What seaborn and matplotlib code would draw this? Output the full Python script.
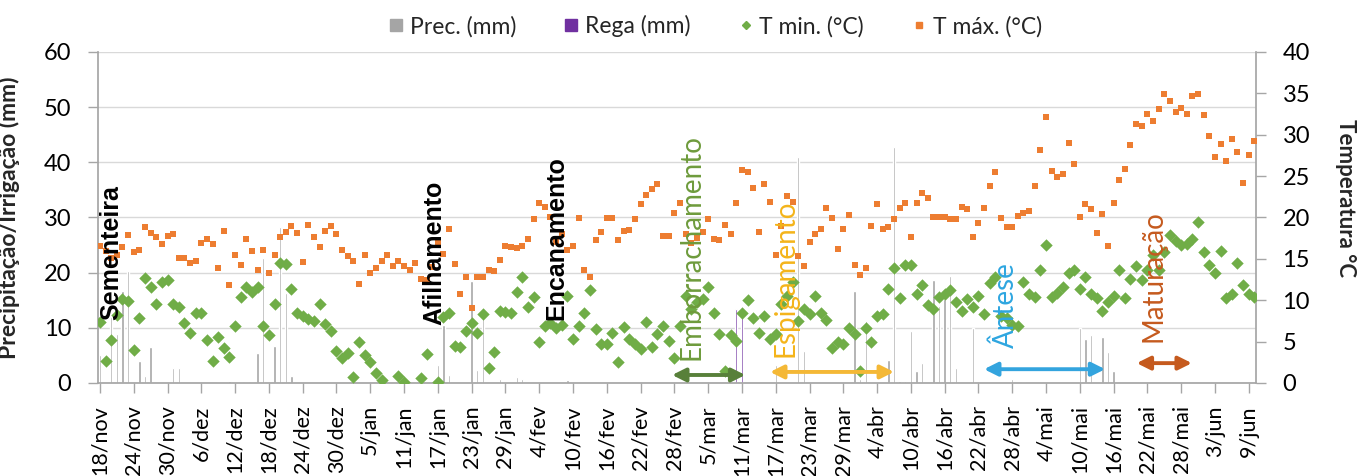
import matplotlib
matplotlib.use("Agg")
import matplotlib.pyplot as plt
from matplotlib.lines import Line2D
import numpy as np
import pandas as pd
import seaborn as sns

# Daily data from 18/nov (day 0) to 10/jun (day 205)
start_date = "2019-11-18"
n_days = 206

t_max = [16.6, 16.0, 15.1, 15.5, 16.4, 17.9, 15.8, 16.1, 18.9, 18.1,
         17.6, 16.8, 17.8, 18.0, 15.1, 15.1, 14.5, 14.7, 16.9, 17.4,
         16.8, 13.9, 18.4, 11.9, 15.5, 14.3, 17.4, 16.0, 13.7, 16.1,
         13.3, 15.5, 17.6, 18.2, 19.0, 18.1, 14.6, 19.1, 17.7, 16.4,
         18.4, 19.0, 18.0, 16.1, 15.3, 14.8, 12.0, 15.5, 13.3, 13.9,
         14.8, 15.5, 14.1, 14.8, 14.1, 13.7, 14.5, 12.6, 12.5, 14.0,
         17.0, 15.6, 18.6, 14.4, 10.8, 12.8, 9.1, 12.8, 12.8, 13.7,
         13.5, 14.9, 16.5, 16.4, 16.3, 16.5, 17.4, 19.8, 21.8, 21.3,
         20.1, 17.0, 18.0, 16.1, 16.5, 19.9, 13.7, 12.8, 17.3, 18.2,
         19.9, 19.9, 17.3, 18.4, 18.5, 19.8, 21.6, 22.7, 23.5, 24.1,
         17.8, 17.8, 20.5, 21.7, 18.0, 16.9, 17.5, 18.3, 19.8, 17.4,
         17.3, 19.1, 18.0, 21.8, 25.7, 25.5, 23.6, 18.2, 24.1, 21.9,
         15.5, 19.0, 22.6, 21.9, 15.4, 14.1, 17.0, 18.0, 18.6, 21.2,
         19.9, 16.2, 18.6, 20.3, 14.3, 13.0, 13.9, 19.0, 21.6, 18.6,
         18.8, 19.8, 21.1, 21.8, 17.6, 21.8, 22.9, 22.4, 20.0, 20.0,
         20.0, 19.8, 19.8, 21.3, 21.0, 17.6, 19.3, 21.2, 23.8, 25.5,
         19.9, 18.9, 18.9, 20.2, 20.5, 20.8, 23.8, 28.2, 32.1, 25.6,
         24.9, 25.3, 29.0, 26.5, 20.0, 21.6, 21.0, 18.1, 20.4, 16.5,
         21.7, 24.5, 25.9, 28.7, 31.3, 31.1, 32.5, 31.7, 33.1, 34.9,
         34.1, 32.7, 33.2, 32.5, 34.7, 34.9, 32.4, 29.9, 27.3, 28.9,
         26.8, 29.5, 27.9, 24.2, 27.5, 29.3]

# negative minima are not shown on the chart (axis starts at 0)
t_min = [7.4, 2.7, 5.2, 8.2, 10.1, 9.9, 4.0, 7.9, 12.7, 11.6,
         9.5, 12.2, 12.4, 9.6, 9.2, 7.2, 6.1, 8.5, 8.5, 5.2,
         2.6, 5.5, 4.2, 3.1, 6.9, 10.4, 11.6, 11.0, 11.6, 6.9,
         5.8, 9.6, 14.5, 14.4, 11.3, 8.5, 8.1, 7.7, 7.5, 9.5,
         7.1, 6.3, 3.9, 3.0, 3.6, 0.7, 5.0, 3.4, 2.5, 1.2,
         0.4, -2.0, -2.0, 0.9, 0.1, -2.0, -2.0, 0.6, 3.5, -2.0,
         0.1, 8.0, 8.5, 4.5, 4.4, 6.3, 7.3, 6.1, 8.3, 1.8,
         3.7, 8.7, 8.6, 8.5, 11.0, 12.8, 9.2, 10.4, 4.9, 6.9,
         7.2, 6.6, 7.0, 10.5, 5.3, 6.9, 8.5, 11.2, 6.5, 4.7,
         4.7, 6.0, 2.5, 6.8, 5.3, 4.7, 4.1, 7.4, 4.4, 5.9,
         6.9, 5.1, 3.0, 6.9, 10.5, 8.9, 9.8, 10.2, 11.6, 8.5,
         5.9, 1.5, 5.8, 5.1, 8.5, 10.0, 7.9, 6.0, 8.1, 5.3,
         5.9, 9.6, 10.5, 12.2, 7.5, 8.9, 8.3, 10.5, 8.5, 7.6,
         4.2, 5.0, 4.7, 6.7, 5.9, 1.5, 6.6, 4.9, 8.1, 8.3,
         11.4, 13.9, 10.3, 14.3, 14.3, 10.8, 11.8, 9.4, 8.9, 10.4,
         10.8, 11.2, 9.8, 8.7, 10.1, 9.2, 10.5, 8.3, 12.1, 12.8,
         8.1, 7.9, 7.0, 6.9, 12.2, 10.8, 10.4, 13.7, 16.7, 10.4,
         10.9, 11.6, 13.3, 13.7, 11.3, 12.8, 10.8, 10.3, 8.7, 9.8,
         10.5, 13.7, 10.3, 12.6, 14.1, 12.5, 13.7, 15.5, 13.7, 15.8,
         17.9, 17.1, 16.7, 16.8, 17.4, 19.4, 15.8, 14.3, 13.3, 16.0,
         10.3, 10.8, 14.5, 11.8, 10.8, 10.4]

# precipitation (mm): day index -> value
prec_days = [0, 2, 3, 4, 5, 7, 8, 9, 13, 14, 21, 23, 25, 26, 27, 28, 29, 31, 32, 33,
             34, 60, 61, 62, 66, 67, 68, 71, 74, 75, 83, 120, 124, 125, 134, 135, 136,
             140, 141, 142, 143, 144, 145, 146, 148, 149, 150, 151, 152, 155, 162, 164,
             174, 175, 176, 178, 179, 180]
prec_mm = [5.1, 12.0, 8.9, 16.7, 20.3, 4.0, 1.3, 6.5, 2.7, 2.7, 0.2, 0.3, 0.2, 0.2, 0.2,
           5.4, 22.7, 6.7, 28.2, 16.4, 1.3, 3.3, 10.6, 1.5, 18.4, 2.4, 11.9, 0.7, 1.1, 0.7,
           0.5, 3.3, 40.9, 5.8, 16.6, 0.8, 11.2, 4.2, 42.7, 0.4, 0.4, 9.4, 2.2, 3.7, 18.7,
           14.0, 15.3, 19.4, 2.7, 9.9, 0.8, 0.2, 9.9, 7.9, 8.7, 8.3, 5.6, 2.1]

# irrigation (mm)
rega_days = [113, 114]
rega_mm = [13.4, 12.2]

tick_labels = ["18/nov", "24/nov", "30/nov", "6/dez", "12/dez", "18/dez", "24/dez",
               "30/dez", "5/jan", "11/jan", "17/jan", "23/jan", "29/jan", "4/fev",
               "10/fev", "16/fev", "22/fev", "28/fev", "5/mar", "11/mar", "17/mar",
               "23/mar", "29/mar", "4/abr", "10/abr", "16/abr", "22/abr", "28/abr",
               "4/mai", "10/mai", "16/mai", "22/mai", "28/mai", "3/jun", "9/jun"]

# phenological stages: label, x (day), bottom of text (mm), colour
stages_black = [("Sementeira", 2.0, 11.4), ("Afilhamento", 59.3, 10.5),
                ("Encanamento", 81.0, 11.4)]
stages_col = [("Emborrachamento", 105.1, 4.2, "#6E9B3C"),
              ("Espigamento", 121.8, 4.7, "#F4B41A"),
              ("Ântese", 160.8, 6.3, "#2EA6E0"),
              ("Maturação", 187.0, 7.4, "#C55A1E")]
# arrows: start day, end day, height (mm), colour
arrows = [(101.6, 114.6, 1.45, "#58803A"), (119.0, 141.0, 2.0, "#F4B836"),
          (157.0, 178.5, 2.5, "#33A4DE"), (184.1, 193.9, 3.6, "#C55A1E")]

df = pd.DataFrame({"date": pd.date_range(start_date, periods=n_days),
                   "day": np.arange(n_days), "tmax": t_max, "tmin": t_min})

sns.set_theme(style="white")
plt.rcParams["font.family"] = ["Lato", "DejaVu Sans"]

fig, ax = plt.subplots(figsize=(13.61, 4.76), dpi=100)
fig.subplots_adjust(left=0.0718, right=0.9229, bottom=0.1954, top=0.8908)
ax2 = ax.twinx()

ax.bar(prec_days, prec_mm, width=0.42, color="#A5A5A5", zorder=2)
ax.bar(rega_days, rega_mm, width=0.42, color="#7030A0", zorder=2)

sns.scatterplot(data=df, x="day", y="tmin", ax=ax2, marker="D", color="#70AD47",
                s=40, linewidth=0, zorder=3)
sns.scatterplot(data=df, x="day", y="tmax", ax=ax2, marker="s", color="#ED7D31",
                s=24, linewidth=0, zorder=3)

ax.set_xlim(-0.4, 205.3)
ax.set_ylim(0, 60)
ax2.set_ylim(0, 40)
ax.set_yticks(range(0, 61, 10))
ax2.set_yticks(range(0, 41, 5))
ax.set_xticks(range(0, 205, 6))
ax.set_xticklabels(tick_labels, rotation=90)

ax.grid(axis="y", color="#D9D9D9", lw=1)
ax.grid(axis="x", visible=False)
ax2.grid(False)

gray = "#A6A6A6"
for a in (ax, ax2):
    for s in a.spines.values():
        s.set_color(gray)
    a.spines["top"].set_visible(False)
ax.spines["right"].set_visible(False)
ax2.spines["left"].set_visible(False)
ax2.spines["bottom"].set_visible(False)

ax.tick_params(axis="x", bottom=True, length=7, width=1, color=gray, pad=9,
               labelsize=15.5, labelcolor="black")
ax.tick_params(axis="y", left=True, length=7, width=1, color=gray, pad=12,
               labelsize=17, labelcolor="black")
ax2.tick_params(axis="y", right=True, length=7, width=1, color=gray, pad=12,
                labelsize=17, labelcolor="black")

ax.set_xlabel("")
ax2.set_xlabel("")
ax.set_ylabel("Precipitação/Irrigação (mm)", fontsize=16.5, fontweight="bold")
ax.yaxis.set_label_coords(-0.067, 0.5)
ax2.set_ylabel("Temperatura °C", fontsize=16, fontweight="bold", rotation=270,
               va="center")
ax2.yaxis.set_label_coords(1.0775, 0.56)

for label, xd, ymm in stages_black:
    ax2.text(xd, ymm, label, transform=ax.transData, rotation=90, ha="center",
             va="bottom", fontsize=18, fontweight="bold", color="black",
             family=["Liberation Sans", "DejaVu Sans"], zorder=5)
for label, xd, ymm, col in stages_col:
    ax2.text(xd, ymm, label, transform=ax.transData, rotation=90, ha="center",
             va="bottom", fontsize=20, color=col, zorder=5)
for x0, x1, ymm, col in arrows:
    ax2.annotate("", xy=(x1, ymm), xytext=(x0, ymm), xycoords=ax.transData,
                 textcoords=ax.transData,
                 arrowprops=dict(arrowstyle="<|-|>", color=col, lw=2.8,
                                 mutation_scale=20, shrinkA=0, shrinkB=0),
                 zorder=5)

handles = [Line2D([], [], ls="none", marker="s", ms=8, color="#A5A5A5"),
           Line2D([], [], ls="none", marker="s", ms=8, color="#7030A0"),
           Line2D([], [], ls="none", marker="D", ms=4.5, color="#70AD47"),
           Line2D([], [], ls="none", marker="s", ms=4.5, color="#ED7D31")]
fig.legend(handles, ["Prec. (mm)", "Rega (mm)", "T min. (°C)", "T máx. (°C)"],
           loc="center", bbox_to_anchor=(0.525, 0.945), ncol=4, frameon=False,
           fontsize=16.5, handlelength=0.8, handletextpad=0.2, columnspacing=2.0)

fig.savefig("out.png", dpi=100)
